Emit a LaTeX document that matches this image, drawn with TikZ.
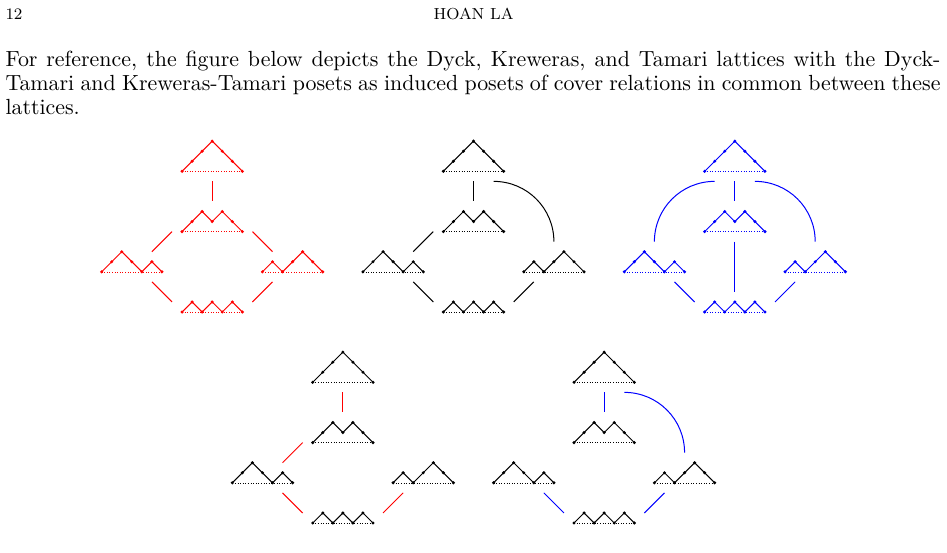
\documentclass[tikz,border=0pt]{standalone}
\usepackage{tikz}
\usetikzlibrary{positioning}

\newcommand{\stp}{5.025pt}
% a Dyck path along the bottom edge of node #1, steps #2 (1 up, -1 down)
\newcommand{\dyckpath}[3]{%
  \draw[dyckbase, #3] (#1.south west) -- (#1.south east);
  \draw[dyckline, #3] (#1.south west) \foreach \s in {#2} { -- ++(\stp,\s*\stp) };
  \fill[#3] (#1.south west) circle[radius=0.85pt]
    \foreach \s in {#2} { ++(\stp,\s*\stp) circle[radius=0.85pt] };
}
% the five Dyck paths of size 3, top one at #2
\newcommand{\dycknodes}[3]{%
  \node[dyck=3, anchor=south] (#1T) at (#2) {};
  \node[dyck=2, below=20.1pt of #1T] (#1M) {};
  \node[dyck=2, below left=10.05pt and 10.05pt of #1M] (#1L) {};
  \node[dyck=2, below right=10.05pt and 10.05pt of #1M] (#1R) {};
  \node[dyck=1, below=35.175pt of #1M] (#1B) {};
  \dyckpath{#1T}{1,1,1,-1,-1,-1}{#3}
  \dyckpath{#1M}{1,1,-1,1,-1,-1}{#3}
  \dyckpath{#1L}{1,1,-1,-1,1,-1}{#3}
  \dyckpath{#1R}{1,-1,1,1,-1,-1}{#3}
  \dyckpath{#1B}{1,-1,1,-1,1,-1}{#3}
}

\begin{document}
\begin{tikzpicture}[
    dyck/.style={inner sep=0pt, outer sep=0pt, minimum width=6*\stp, minimum height=#1*\stp},
    dyckline/.style={line width=0.5pt, line join=round},
    dyckbase/.style={line width=0.3pt, densely dotted},
    cover/.style={line width=0.5pt},
    txt/.style={inner sep=0pt, outer sep=0pt}
  ]
    \useasboundingbox (0,0) rectangle (473.5pt,-276pt);

    % page head and text
    \node[txt, anchor=base west, font=\footnotesize] (pagenum) at (2.75pt,-9.5pt) {12};
    \node[txt, anchor=base, font=\footnotesize] (runhead) at (236.75pt,-9.5pt) {HOAN LA};
    \node[txt, anchor=base west, text width=467.5pt, align=justify,
          font=\fontsize{10.95pt}{12pt}\selectfont] (para) at (2.75pt,-33.25pt)
      {For reference, the figure below depicts the Dyck, Kreweras, and Tamari lattices with the Dyck-Tamari and Kreweras-Tamari posets as induced posets of cover relations in common between these lattices.};

    % Dyck, Kreweras, Tamari; then Dyck-Tamari, Kreweras-Tamari
    \dycknodes{a}{106.1pt,-85.65pt}{red}
    \dycknodes{b}{236.75pt,-85.65pt}{black}
    \dycknodes{c}{367.4pt,-85.65pt}{blue}
    \dycknodes{d}{171.43pt,-191.15pt}{black}
    \dycknodes{e}{302.08pt,-191.15pt}{black}

    % covers found in every picture
    \foreach \lat/\col in {a/red, b/black, c/blue, d/red, e/blue} {
      \draw[cover, \col] ([yshift=-\stp]\lat T.south) -- ([yshift=\stp]\lat M.north);
      \draw[cover, \col] ([shift={(-\stp,-\stp)}]\lat L.south east) -- ([xshift=-\stp]\lat B.north west);
      \draw[cover, \col] ([shift={(\stp,-\stp)}]\lat R.south west) -- ([xshift=\stp]\lat B.north east);
    }
    \foreach \lat/\col in {a/red, b/black, d/red}
      \draw[cover, \col] ([xshift=-\stp]\lat M.south west) -- ([xshift=-\stp]\lat L.north east);
    \draw[cover, red] ([xshift=\stp]aM.south east) -- ([xshift=\stp]aR.north west);
    \foreach \lat/\col in {b/black, c/blue, e/blue}
      \draw[cover, \col] ([shift={(-\stp,-\stp)}]\lat T.south east) to[out=0, in=90] ([yshift=\stp]\lat R.north);
    \draw[cover, blue] ([shift={(\stp,-\stp)}]cT.south west) to[out=180, in=90] ([yshift=\stp]cL.north);
    \draw[cover, blue] ([yshift=-\stp]cM.south) -- ([yshift=\stp]cB.north);
  \end{tikzpicture}
\end{document}
